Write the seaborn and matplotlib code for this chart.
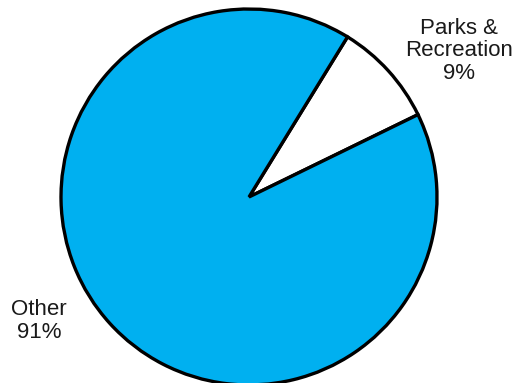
import matplotlib
matplotlib.use('Agg')
import matplotlib.pyplot as plt
import seaborn as sns

# Data
labels = ['Parks &\nRecreation', 'Other']
shares = [9, 91]
colors = ['#FFFFFF', '#00B0F0']

sns.set_theme(style='white')
plt.rcParams['font.family'] = ['Liberation Sans', 'DejaVu Sans']

fig = plt.figure(figsize=(5.27, 3.83), dpi=100)
# pie centre at (249, 197) px, radius 188 px
ax = fig.add_axes([61 / 527, -2 / 383, 376 / 527, 376 / 383])

wedges, _ = ax.pie(shares, colors=colors, startangle=26, counterclock=True,
                   wedgeprops=dict(edgecolor='black', linewidth=2.4))
for w in wedges:
    w.set_clip_on(False)
ax.set_xlim(-1, 1)
ax.set_ylim(-1, 1)
ax.set_aspect('equal')
ax.axis('off')

# labels outside the pie
pos = [((459 - 249) / 188, (197 - 51) / 188), ((39 - 249) / 188, (197 - 321) / 188)]
for lab, v, (x, y) in zip(labels, shares, pos):
    ax.text(x, y, f'{lab}\n{v}%', ha='center', va='center',
            fontsize=16, color='#1a1a1a', linespacing=1.12)

fig.savefig('out.png', dpi=100)
